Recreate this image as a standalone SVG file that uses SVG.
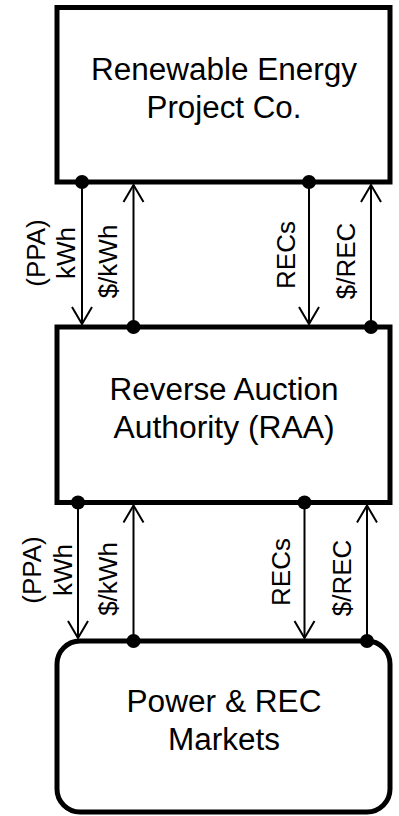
<svg xmlns="http://www.w3.org/2000/svg" width="399" height="816" viewBox="0 0 399 816">
  <style>
    .box { fill: #ffffff; stroke: #000000; stroke-width: 5; }
    .title { font-family: "Liberation Sans", Arial, sans-serif; font-size: 31px; fill: #000000; text-anchor: middle; }
    .flow { stroke: #000000; stroke-width: 2; fill: none; }
    .dot { fill: #000000; }
    .lbl { font-family: "Liberation Sans", Arial, sans-serif; font-size: 26px; fill: #000000; text-anchor: middle; }
  </style>
  <defs>
    <marker id="head" markerUnits="userSpaceOnUse" markerWidth="24" markerHeight="24" refX="0" refY="0" viewBox="-20 -12 24 24" orient="auto" overflow="visible">
      <path d="M-17,-10 L0,0 L-17,10" fill="none" stroke="#000000" stroke-width="2"/>
    </marker>
  </defs>

  <rect width="399" height="816" fill="#ffffff"/>

  <!-- project company -->
  <g id="project-co">
    <rect class="box" x="57" y="7.5" width="333" height="174.5"/>
    <text class="title" x="224" y="80" textLength="266" lengthAdjust="spacingAndGlyphs">Renewable Energy</text>
    <text class="title" x="224" y="118" textLength="155" lengthAdjust="spacingAndGlyphs">Project Co.</text>
  </g>

  <!-- auction authority -->
  <g id="raa">
    <rect class="box" x="57" y="327" width="333" height="175.5"/>
    <text class="title" x="224" y="400" textLength="229" lengthAdjust="spacingAndGlyphs">Reverse Auction</text>
    <text class="title" x="224" y="438" textLength="221" lengthAdjust="spacingAndGlyphs">Authority (RAA)</text>
  </g>

  <!-- markets -->
  <g id="markets">
    <rect class="box" x="57" y="641" width="333" height="171" rx="23" ry="23"/>
    <text class="title" x="224" y="712" textLength="195" lengthAdjust="spacingAndGlyphs">Power &amp; REC</text>
    <text class="title" x="224" y="750" textLength="112" lengthAdjust="spacingAndGlyphs">Markets</text>
  </g>

  <!-- flows between the three parties -->
  <g id="connectors">
    <!-- project co. to RAA -->
    <line class="flow" x1="82" y1="182" x2="82" y2="324" marker-end="url(#head)"/>
    <line class="flow" x1="133.5" y1="327" x2="133.5" y2="185" marker-end="url(#head)"/>
    <line class="flow" x1="309" y1="182" x2="309" y2="324" marker-end="url(#head)"/>
    <line class="flow" x1="371" y1="327" x2="371" y2="185" marker-end="url(#head)"/>
    <circle class="dot" cx="82" cy="182" r="7"/>
    <circle class="dot" cx="309" cy="182" r="7"/>
    <circle class="dot" cx="133.5" cy="327" r="7"/>
    <circle class="dot" cx="371" cy="327" r="7"/>

    <!-- RAA to markets -->
    <line class="flow" x1="78" y1="502.5" x2="78" y2="638" marker-end="url(#head)"/>
    <line class="flow" x1="133.5" y1="641" x2="133.5" y2="505.5" marker-end="url(#head)"/>
    <line class="flow" x1="304.5" y1="502.5" x2="304.5" y2="638" marker-end="url(#head)"/>
    <line class="flow" x1="367" y1="641" x2="367" y2="505.5" marker-end="url(#head)"/>
    <circle class="dot" cx="78" cy="502.5" r="7"/>
    <circle class="dot" cx="304.5" cy="502.5" r="7"/>
    <circle class="dot" cx="133.5" cy="641" r="7"/>
    <circle class="dot" cx="367" cy="641" r="7"/>

    <!-- flow labels -->
    <text class="lbl" transform="translate(45,253) rotate(-90)">(PPA)</text>
    <text class="lbl" transform="translate(74.5,253) rotate(-90)">kWh</text>
    <text class="lbl" transform="translate(117,261.5) rotate(-90)">$/kWh</text>
    <text class="lbl" transform="translate(295,255) rotate(-90)">RECs</text>
    <text class="lbl" transform="translate(355,261) rotate(-90)">$/REC</text>

    <text class="lbl" transform="translate(41,570) rotate(-90)">(PPA)</text>
    <text class="lbl" transform="translate(71.5,570) rotate(-90)">kWh</text>
    <text class="lbl" transform="translate(117,579) rotate(-90)">$/kWh</text>
    <text class="lbl" transform="translate(290,572) rotate(-90)">RECs</text>
    <text class="lbl" transform="translate(350.5,578) rotate(-90)">$/REC</text>
  </g>
</svg>
